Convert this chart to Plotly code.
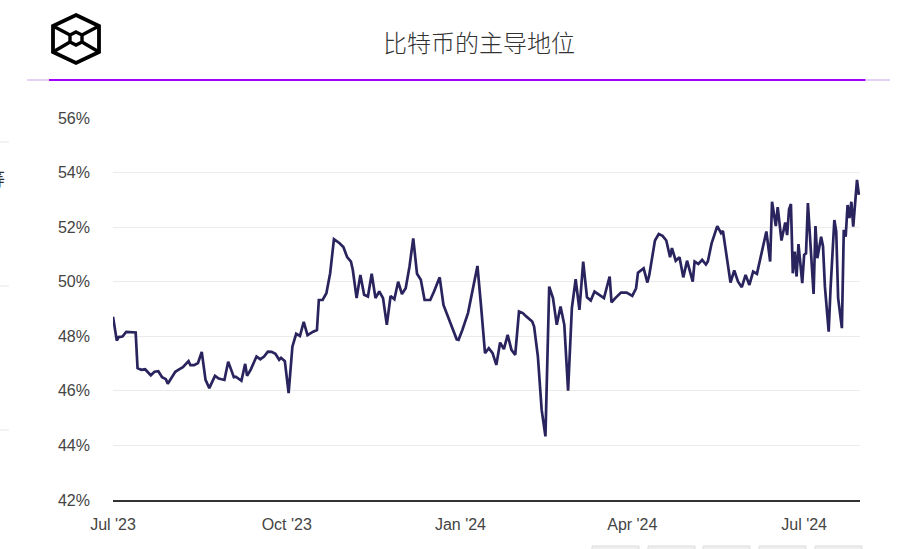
import plotly.graph_objects as go

# ---------------- data ----------------
dates = [
    "2023-07-01","2023-07-03","2023-07-04","2023-07-06","2023-07-08","2023-07-11","2023-07-13","2023-07-14",
    "2023-07-16","2023-07-18","2023-07-21","2023-07-23","2023-07-25","2023-07-27","2023-07-29","2023-07-30",
    "2023-08-01","2023-08-03","2023-08-05","2023-08-07","2023-08-10","2023-08-11","2023-08-13","2023-08-15",
    "2023-08-17","2023-08-19","2023-08-21","2023-08-24","2023-08-26","2023-08-28","2023-08-29","2023-08-31",
    "2023-09-03","2023-09-04","2023-09-07","2023-09-09","2023-09-10","2023-09-12","2023-09-15","2023-09-17",
    "2023-09-19","2023-09-21","2023-09-23","2023-09-25","2023-09-27","2023-09-28","2023-09-30",
    "2023-10-02","2023-10-04","2023-10-06","2023-10-08","2023-10-10","2023-10-12","2023-10-15","2023-10-17",
    "2023-10-18","2023-10-20","2023-10-22","2023-10-24","2023-10-26","2023-10-29","2023-10-31",
    "2023-11-02","2023-11-04","2023-11-05","2023-11-07","2023-11-09","2023-11-11","2023-11-13","2023-11-15",
    "2023-11-17","2023-11-19","2023-11-21","2023-11-23","2023-11-25","2023-11-27","2023-11-29",
    "2023-12-01","2023-12-03","2023-12-05","2023-12-07","2023-12-09","2023-12-11","2023-12-13","2023-12-16",
    "2023-12-18","2023-12-20","2023-12-21","2023-12-23","2023-12-25","2023-12-28","2023-12-30","2023-12-31",
    "2024-01-02","2024-01-05","2024-01-07","2024-01-10","2024-01-12","2024-01-14","2024-01-16","2024-01-18",
    "2024-01-20","2024-01-22","2024-01-24","2024-01-26","2024-01-28","2024-01-30",
    "2024-02-01","2024-02-03","2024-02-05","2024-02-08","2024-02-09","2024-02-11","2024-02-13","2024-02-15",
    "2024-02-17","2024-02-19","2024-02-21","2024-02-23","2024-02-25","2024-02-27","2024-02-29",
    "2024-03-02","2024-03-04","2024-03-06","2024-03-08","2024-03-10","2024-03-12","2024-03-14","2024-03-17",
    "2024-03-20","2024-03-21","2024-03-23","2024-03-26","2024-03-29",
    "2024-04-01","2024-04-03","2024-04-04","2024-04-07","2024-04-09","2024-04-10","2024-04-13","2024-04-15",
    "2024-04-17","2024-04-19","2024-04-21","2024-04-22","2024-04-24","2024-04-26","2024-04-28","2024-04-30",
    "2024-05-03","2024-05-04","2024-05-06","2024-05-08","2024-05-10","2024-05-11","2024-05-13","2024-05-16",
    "2024-05-18","2024-05-19","2024-05-22","2024-05-23","2024-05-25","2024-05-27","2024-05-29","2024-05-31",
    "2024-06-02","2024-06-04","2024-06-06","2024-06-08","2024-06-09","2024-06-11","2024-06-13","2024-06-14",
    "2024-06-16","2024-06-17","2024-06-19","2024-06-21","2024-06-22","2024-06-23","2024-06-24","2024-06-25",
    "2024-06-26","2024-06-27","2024-06-28","2024-06-30",
    "2024-07-01","2024-07-02","2024-07-03","2024-07-05","2024-07-06","2024-07-07","2024-07-08","2024-07-10",
    "2024-07-11","2024-07-12","2024-07-14","2024-07-15","2024-07-17","2024-07-18","2024-07-19","2024-07-21",
    "2024-07-22","2024-07-23","2024-07-24","2024-07-25","2024-07-26","2024-07-27","2024-07-28","2024-07-29",
    "2024-07-30",
]

dominance = [
    48.72,47.84,47.97,47.99,48.16,48.16,48.14,46.83,
    46.77,46.79,46.57,46.70,46.72,46.50,46.43,46.26,
    46.50,46.70,46.79,46.87,47.09,46.94,46.94,47.02,
    47.43,46.40,46.10,46.55,46.45,46.40,46.40,47.07,
    46.50,46.52,46.37,46.99,46.55,46.79,47.26,47.16,
    47.26,47.44,47.43,47.36,47.14,47.21,47.09,
    45.92,47.62,48.09,48.01,48.53,48.04,48.17,48.23,
    49.33,49.33,49.58,50.31,51.56,51.41,51.27,
    50.90,50.74,50.43,49.40,50.25,49.52,49.46,50.29,
    49.40,49.64,49.40,48.42,49.48,49.36,50.00,
    49.55,49.76,50.55,51.59,50.29,50.07,49.33,49.33,
    49.64,50.00,50.16,49.15,48.78,48.23,47.89,47.87,
    48.23,48.85,49.58,50.58,49.03,47.38,47.56,47.38,
    46.95,47.77,47.53,48.05,47.50,47.32,
    48.91,48.85,48.72,48.54,48.36,47.26,45.30,44.33,
    49.82,49.40,48.42,49.09,48.42,46.01,49.03,
    50.09,48.97,50.74,49.43,49.31,49.64,49.55,49.40,
    50.19,49.24,49.40,49.60,49.60,
    49.48,49.76,50.33,50.49,49.97,50.25,51.51,51.75,
    51.68,51.51,50.90,51.23,50.77,50.90,50.16,50.77,
    50.00,50.74,50.65,50.80,50.63,50.74,51.41,52.04,
    51.78,51.86,50.37,49.97,50.41,50.00,49.80,50.25,
    49.88,50.37,50.29,50.95,51.16,51.84,50.74,52.93,
    52.04,52.73,51.51,52.17,51.71,52.65,52.85,50.31,
    51.10,50.19,51.38,49.95,
    50.98,51.04,52.88,50.43,49.55,52.04,50.86,51.65,
    51.29,49.82,48.17,49.76,52.26,51.84,49.40,48.30,
    51.90,51.65,52.81,52.33,52.93,52.02,52.88,53.73,
    53.18,
]

y_ticks = [42, 44, 46, 48, 50, 52, 54, 56]
title_text = "比特币的主导地位"

# ---------------- layout geometry ----------------
W, H = 904, 549
L, R, T, B = 113, 44, 118, 49
PW, PH = W - L - R, H - T - B


def px(x):
    return (x - L) / PW


def py(y):
    return (H - B - y) / PH


fig = go.Figure()
fig.add_trace(go.Scatter(
    x=dates, y=dominance, mode="lines",
    line=dict(color="#2a245e", width=2.7),
    hoverinfo="skip", showlegend=False,
))

shapes = []
# header lines
shapes.append(dict(type="line", xref="paper", yref="paper", x0=px(27), x1=px(50), y0=py(80), y1=py(80),
                   line=dict(color="#dcc0f5", width=1.5)))
shapes.append(dict(type="line", xref="paper", yref="paper", x0=px(49), x1=px(866), y0=py(80), y1=py(80),
                   line=dict(color="#a100ff", width=2)))
shapes.append(dict(type="line", xref="paper", yref="paper", x0=px(865), x1=px(890), y0=py(80), y1=py(80),
                   line=dict(color="#dcc0f5", width=1.5)))

# logo: outer hexagon
hexo = [(76, 15), (99, 26), (99, 52), (76, 63), (53, 52), (53, 26)]
path = "M " + " L ".join(f"{px(a)},{py(b)}" for a, b in hexo) + " Z"
shapes.append(dict(type="path", xref="paper", yref="paper", path=path,
                   line=dict(color="#000000", width=3.8)))
# inner small hexagon
hexi = [(76, 32), (82, 35), (82, 42), (76, 45), (70, 42), (70, 35)]
path = "M " + " L ".join(f"{px(a)},{py(b)}" for a, b in hexi) + " Z"
shapes.append(dict(type="path", xref="paper", yref="paper", path=path,
                   line=dict(color="#000000", width=3.4)))
# spokes
for (a, b), (c, d) in [((53, 26), (70, 35)), ((99, 26), (82, 35)), ((53, 52), (70, 42)), ((99, 52), (82, 42))]:
    shapes.append(dict(type="line", xref="paper", yref="paper", x0=px(a), y0=py(b), x1=px(c), y1=py(d),
                       line=dict(color="#000000", width=3.4)))

# left-edge page remnants
for yy in [142, 286, 430]:
    shapes.append(dict(type="line", xref="paper", yref="paper", x0=px(0), x1=px(9), y0=py(yy), y1=py(yy),
                       line=dict(color="#e6e6e6", width=1)))

# bottom buttons (page remnants)
for x0 in [592, 648, 703, 759, 815]:
    shapes.append(dict(type="rect", xref="paper", yref="paper", x0=px(x0), x1=px(x0 + 47),
                       y0=py(560), y1=py(546), fillcolor="#eeeeee",
                       line=dict(color="#dddddd", width=1)))

annotations = [
    dict(text=title_text, xref="paper", yref="paper", x=px(479), y=py(42),
         xanchor="center", yanchor="middle", showarrow=False,
         font=dict(family="Noto Sans CJK SC", size=24, color="#333333", weight=300)),
    dict(text="等", xref="paper", yref="paper", x=px(7), y=py(178),
         xanchor="right", yanchor="middle", showarrow=False,
         font=dict(family="Noto Sans CJK SC", size=18, color="#333333")),
]

tick_font = dict(family="Liberation Sans, Arial, sans-serif", size=16, color="#444444")

fig.update_layout(
    width=W, height=H,
    margin=dict(l=L, r=R, t=T, b=B, pad=0),
    paper_bgcolor="white", plot_bgcolor="white",
    shapes=shapes, annotations=annotations,
    hovermode=False,
    font=dict(family="Liberation Sans, Arial, sans-serif", size=16, color="#444444"),
    xaxis=dict(
        type="date",
        range=["2023-07-01", "2024-07-30 14:00"],
        tick0="2023-07-01", dtick="M3", tickformat="%b '%y",
        showgrid=False, zeroline=False,
        showline=True, linecolor="#333333", linewidth=1.5,
        ticks="", ticklabelstandoff=9,
        tickfont=tick_font,
        fixedrange=True,
    ),
    yaxis=dict(
        range=[42, 56], tickvals=y_ticks, ticktext=[f"{v}%" for v in y_ticks],
        showgrid=True, gridcolor="#ebebeb", gridwidth=1,
        zeroline=False, showline=False, ticks="",
        ticklabelstandoff=22,
        tickfont=tick_font,
        fixedrange=True,
    ),
)

fig.write_html(
    "out.html",
    config={"displayModeBar": False},
    post_script="document.body.style.margin='0px';document.body.style.overflow='hidden';",
)
